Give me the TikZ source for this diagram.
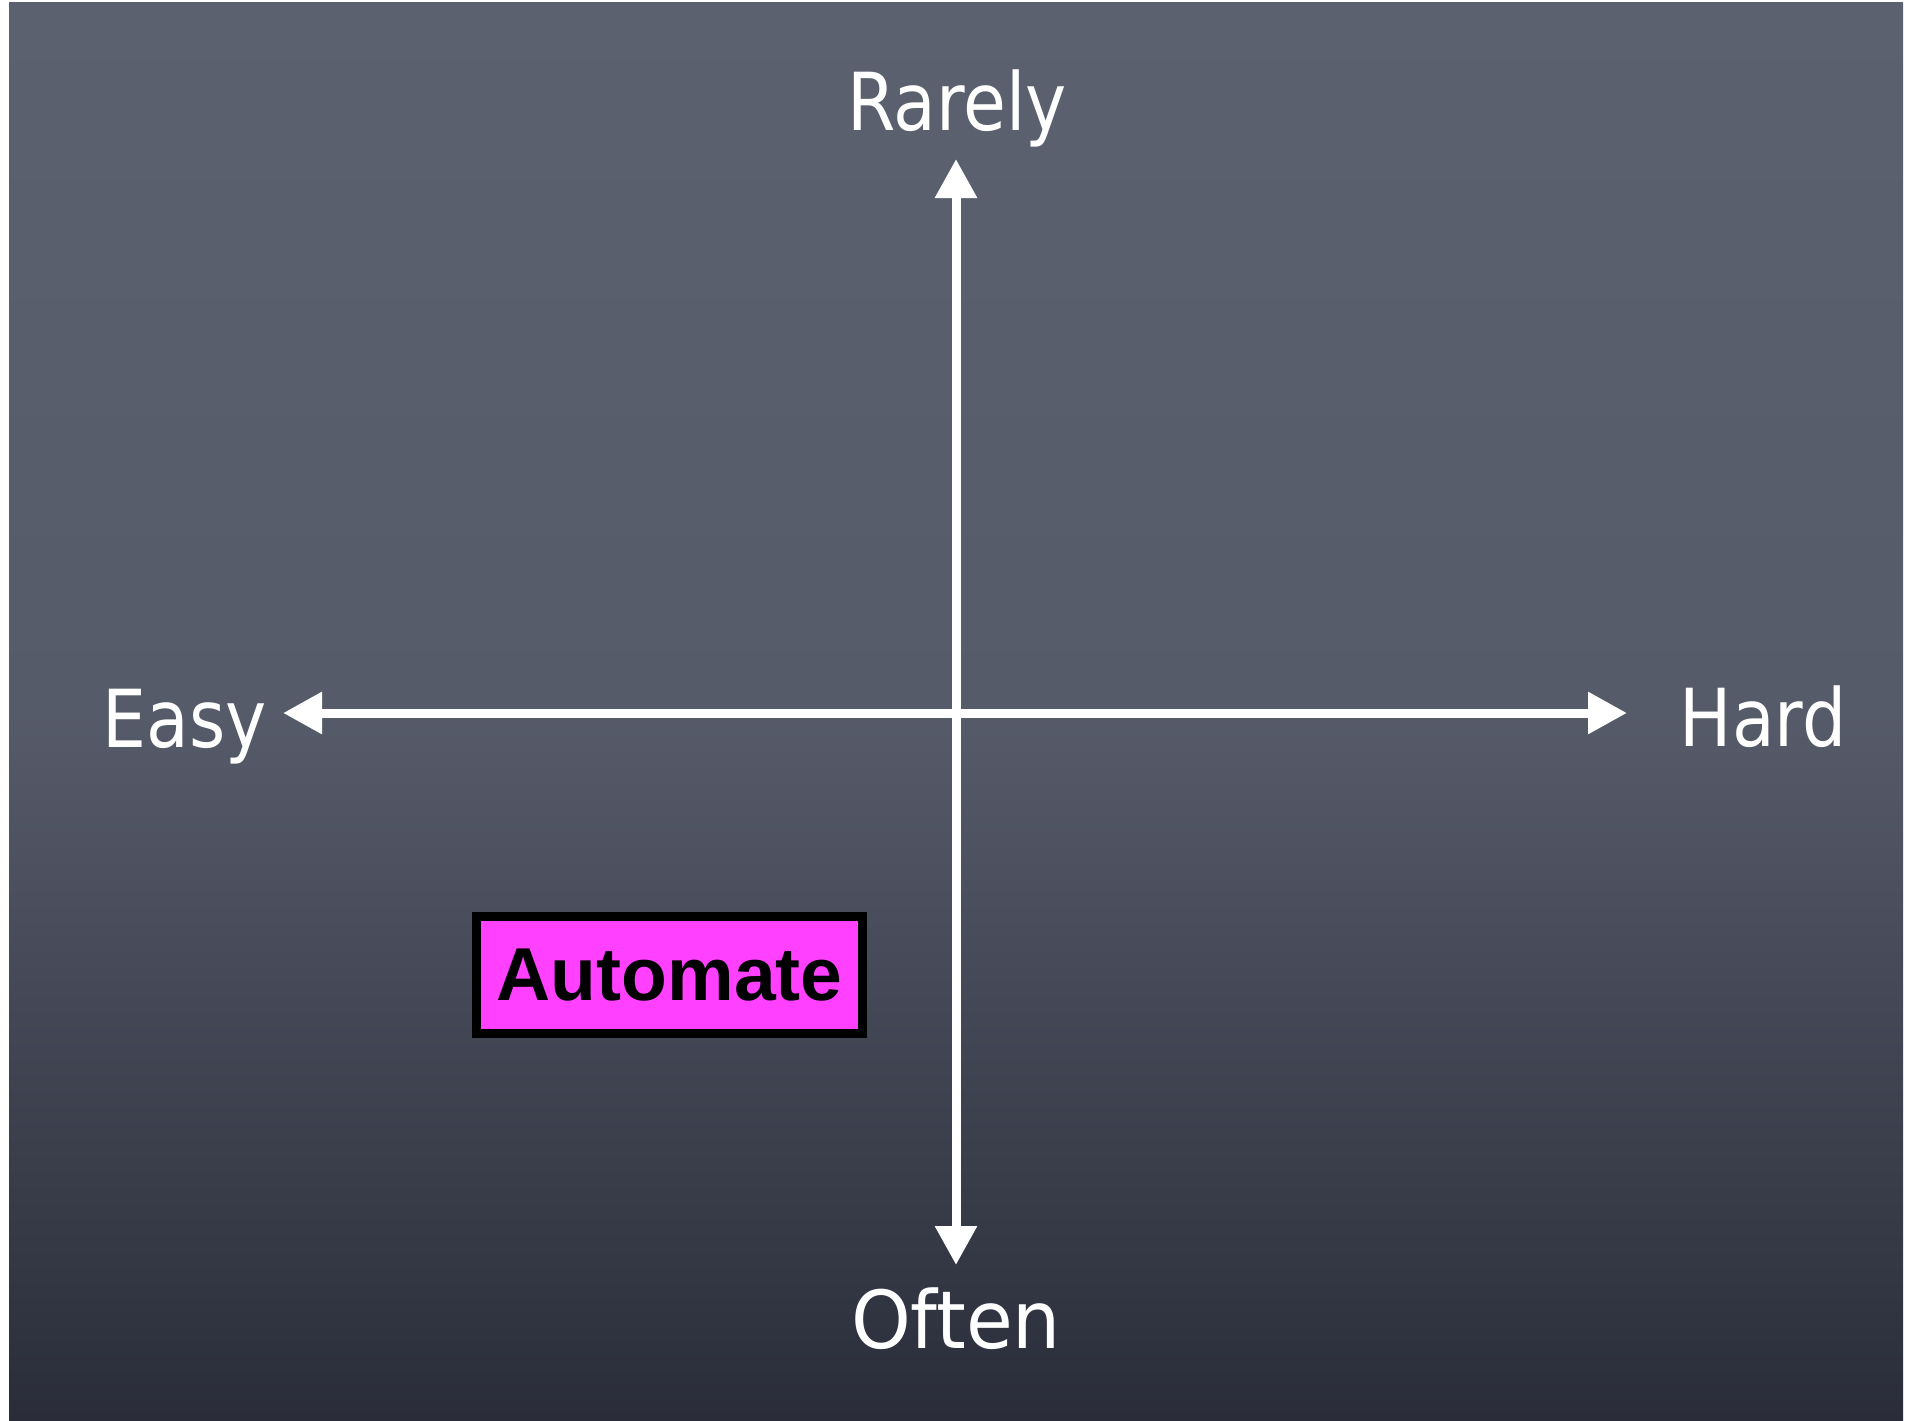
\documentclass[tikz,border=0pt]{standalone}
\usepackage{fontspec}
\usetikzlibrary{arrows.meta}
\newfontfamily\chalkfont[FakeStretch=0.87]{DejaVu Sans}
\newfontfamily\chalkwide[FakeStretch=0.95]{DejaVu Sans}
\newfontfamily\boxfont{Liberation Sans}
\definecolor{boardtop}{RGB}{92,97,112}
\definecolor{boardmid}{RGB}{86,91,106}
\definecolor{boardbot}{RGB}{42,45,57}
\definecolor{automag}{RGB}{255,64,255}
\tikzset{
  axislabel/.style={text=white, font=\chalkfont\fontsize{80}{96}\selectfont, anchor=base, inner sep=0pt},
  axisline/.style={draw=white, line width=9pt, {Triangle[length=39pt,width=40pt]}-{Triangle[length=39pt,width=40pt]}},
  tagbox/.style={draw=black, line width=9pt, fill=automag, minimum width=386pt, minimum height=117pt, inner sep=0pt,
    font=\boxfont\bfseries\fontsize{75}{90}\selectfont, text=black}
}
\begin{document}
\begin{tikzpicture}[x=1pt,y=-1pt]
\useasboundingbox (0,0) rectangle (1923,1421);
% chalkboard
\shade[top color=boardtop, bottom color=boardbot, middle color=boardmid] (9,3) rectangle (1903,1421);
% axes
\coordinate (ytop) at (956,159);
\coordinate (ybot) at (956,1265);
\coordinate (xleft) at (283,713);
\coordinate (xright) at (1627,713);
\draw[axisline] (ybot) -- (ytop);
\draw[axisline] (xleft) -- (xright);
% labels
\node[axislabel] (rarely) at (957,130) {Rarely};
\node[axislabel, font=\chalkwide\fontsize{80}{96}\selectfont] (often) at (956,1348) {Often};
\node[axislabel] (easy) at (185,747) {Easy};
\node[axislabel] (hard) at (1763,746) {Hard};
% box
\node[tagbox] (automate) at (669.5,975) {Automate};
\end{tikzpicture}
\end{document}
